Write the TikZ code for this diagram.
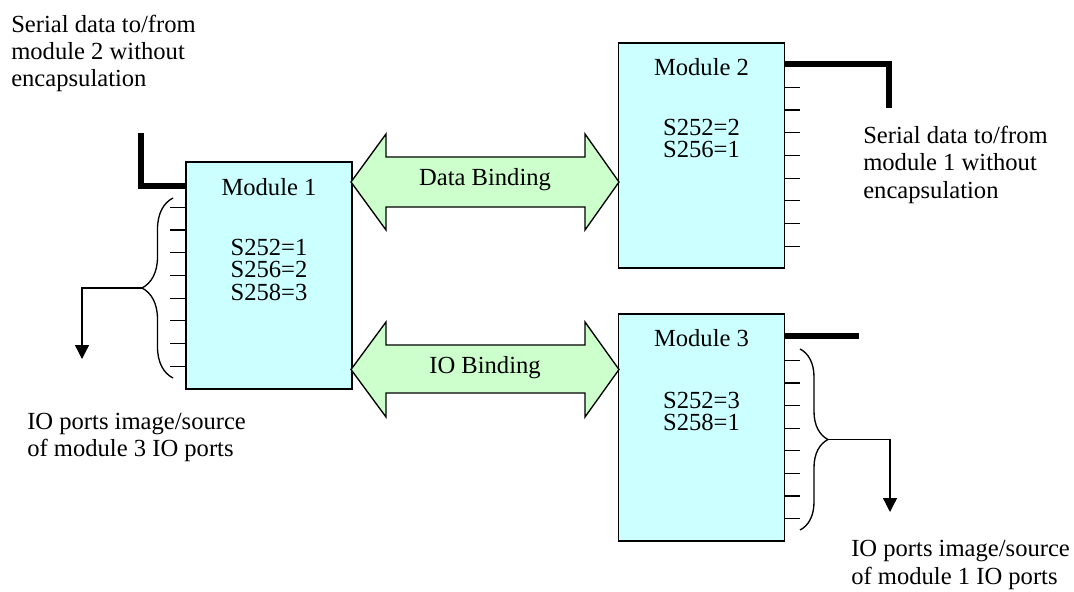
\documentclass[tikz,border=0pt]{standalone}
\usepackage{fontspec}
\setmainfont{Liberation Serif}
\usetikzlibrary{arrows.meta,decorations.pathreplacing,calc}
\definecolor{modfill}{HTML}{CCFFFF}
\definecolor{bindfill}{HTML}{CCFFCC}
\begin{document}
\begin{tikzpicture}[x=0.75pt,y=-0.75pt,
  txt/.style={font=\fontsize{18.45pt}{20.4pt}\selectfont, inner sep=0pt},
  lbl/.style={txt, align=left, anchor=base west},
  mtxt/.style={txt, anchor=base},
  modbox/.style={draw=black, line width=1pt, fill=modfill, inner sep=0pt,
    minimum width=166*0.75pt, minimum height=227*0.75pt},
  tick/.style={line width=0.9pt},
  bus/.style={line width=4.4pt},
  bindarrow/.style={draw=black, fill=bindfill, line width=1pt, line join=miter},
  bracel/.style={line width=1pt, decorate, decoration={brace, amplitude=#1}},
  outarrow/.style={line width=1pt, -{Triangle[width=10.5pt,length=10.5pt]}}
]
\useasboundingbox (0,0) rectangle (1074,592);

% modules
\node[modbox] (m1) at (269,275.5) {};
\node[modbox, minimum height=225*0.75pt] (m2) at (701.5,155.5) {};
\node[modbox] (m3) at (701.5,427.5) {};

\node[mtxt] (m1t) at (269,195) {Module 1};
\node[mtxt] (m1a) at (269,255) {S252=1};
\node[mtxt] (m1b) at (269,277.7) {S256=2};
\node[mtxt] (m1c) at (269,300.4) {S258=3};

\node[mtxt] (m2t) at (701.5,75) {Module 2};
\node[mtxt] (m2a) at (701.5,135) {S252=2};
\node[mtxt] (m2b) at (701.5,157.7) {S256=1};

\node[mtxt] (m3t) at (701.5,346) {Module 3};
\node[mtxt] (m3a) at (701.5,408) {S252=3};
\node[mtxt] (m3b) at (701.5,430.5) {S258=1};

% ticks
\foreach \k in {0,...,7} {
  \draw[tick] ($(m1.north west)+(0,{46+22.7*\k})$) -- ++(-15,0);
  \draw[tick] ($(m2.north east)+(0,{45+22.7*\k})$) -- ++(15,0);
  \draw[tick] ($(m3.north east)+(0,{47+22.6*\k})$) -- ++(15,0);
}

% serial buses
\draw[bus] ($(m1.north west)+(0,25)$) -- ++(-44,0) -- ++(0,-53);
\draw[bus] ($(m2.north east)+(0,22)$) -- ++(104,0) -- ++(0,44);
\draw[bus] ($(m3.north east)+(0,23)$) -- ++(74,0);

% braces and outputs
\draw[bracel=23.25pt] (173,378) -- (173,198);
\coordinate (b1) at (142,288);
\coordinate (o1) at (82,359);
\draw[outarrow] (b1) -| (o1);

\draw[bracel=21pt] (800,349) -- (800,530);
\coordinate (b3) at (828,439.5);
\coordinate (o3) at (890,512);
\draw[outarrow] (b3) -| (o3);

% binding arrows
\draw[bindarrow] (351,182) -- (386,134) -- (386,157) -- (585,157) -- (585,134)
  -- (619,182) -- (585,230) -- (585,207) -- (386,207) -- (386,230) -- cycle;
\node[mtxt] (db) at (485,185.7) {Data Binding};

\draw[bindarrow] (351,369.5) -- (386,322) -- (386,345) -- (585,345) -- (585,322)
  -- (619,369.5) -- (585,417) -- (585,393) -- (386,393) -- (386,417) -- cycle;
\node[mtxt] (ib) at (485,373) {IO Binding};

% labels (base anchor = baseline of last line)
\node[lbl] (l1) at (11,87) {Serial data to/from\\module 2 without\\encapsulation};
\node[lbl] (l2) at (863,198) {Serial data to/from\\module 1 without\\encapsulation};
\node[lbl] (l3) at (27,456.7) {IO ports image/source\\of module 3 IO ports};
\node[lbl] (l4) at (851,584) {IO ports image/source\\of module 1 IO ports};
\end{tikzpicture}
\end{document}
